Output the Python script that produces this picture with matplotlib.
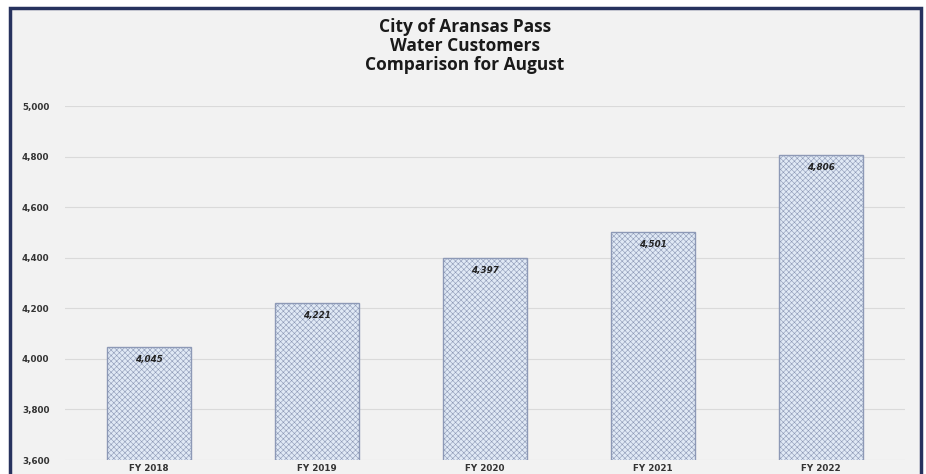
import matplotlib
matplotlib.use("Agg")
import matplotlib.pyplot as plt
from matplotlib.patches import Rectangle
from matplotlib.ticker import FuncFormatter

categories = ["FY 2018", "FY 2019", "FY 2020", "FY 2021", "FY 2022"]
customers = [4045, 4221, 4397, 4501, 4806]
yticks = [3600, 3800, 4000, 4200, 4400, 4600, 4800, 5000]

plt.rcParams['font.family'] = ['DejaVu Sans']
plt.rcParams['hatch.color'] = '#c3cfe4'
plt.rcParams['hatch.linewidth'] = 0.4

W, H = 926, 474
fig = plt.figure(figsize=(W/100, H/100), dpi=100)
fig.patch.set_facecolor('white')

# outer chart frame
frame = Rectangle((10/W, -0.05), (921-10)/W, 1 - 8/H + 0.05, transform=fig.transFigure,
                  facecolor='#f2f2f2', edgecolor='#27325e', linewidth=2.5, zorder=-5)
fig.patches.append(frame)

ax = fig.add_axes([65/W, 1-460/H, 840/W, (460-106)/H])
ax.set_facecolor('none')
ax.set_zorder(2)

x = range(len(categories))
bars = ax.bar(x, customers, width=0.5, color='#e0e9f5', edgecolor='#8d99b6',
              linewidth=1.0, hatch='xxxxxx', zorder=3)

for xi, v in zip(x, customers):
    ax.text(xi, v - 30, f"{v:,}", ha='center', va='top', fontsize=6.3,
            fontweight='bold', fontstyle='italic', color='#222222', zorder=4)

ax.set_ylim(3600, 5000)
ax.set_xlim(-0.5, len(categories) - 0.5)
ax.set_yticks(yticks)
ax.yaxis.set_major_formatter(FuncFormatter(lambda v, p: f"{int(v):,}"))
ax.set_xticks(list(x))
ax.set_xticklabels(categories)
ax.tick_params(axis='both', length=0, labelsize=6.3, colors='#333333')
for lab in ax.get_xticklabels() + ax.get_yticklabels():
    lab.set_fontweight('bold')
ax.tick_params(axis='y', pad=31)
ax.tick_params(axis='x', pad=3)
for lab in ax.get_yticklabels():
    lab.set_horizontalalignment('left')
ax.grid(axis='y', color='#dadada', linewidth=0.8, zorder=0)
for s in ax.spines.values():
    s.set_visible(False)

fig.text(465/W, 1-46/H, "City of Aransas Pass\nWater Customers\nComparison for August",
         ha='center', va='center', fontsize=12.5, fontweight='bold', color='#1a1a1a',
         family=['Open Sans', 'DejaVu Sans'], linespacing=1.05, zorder=5)

fig.savefig("out.png", dpi=100, facecolor='white')
